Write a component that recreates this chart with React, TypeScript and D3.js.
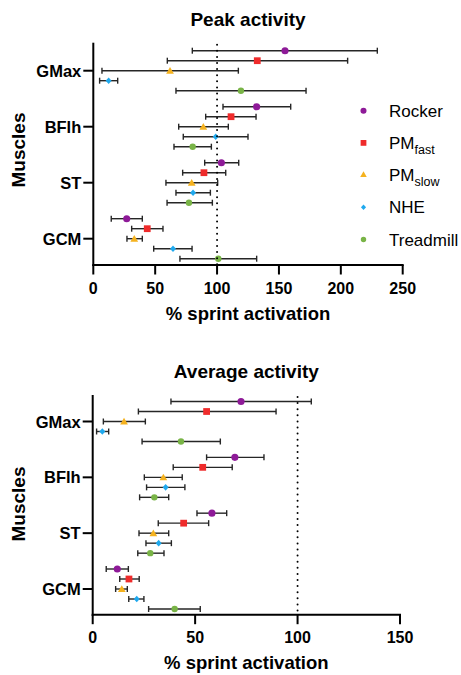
import React from 'react';
import * as d3 from 'd3';

const muscles = ['GMax', 'BFlh', 'ST', 'GCM'];
const seriesNames = ['Rocker', 'PMfast', 'PMslow', 'NHE', 'Treadmill'];
const legendMain = ['Rocker', 'PM', 'PM', 'NHE', 'Treadmill'];
const legendSub = ['', 'fast', 'slow', '', ''];
const peakTicks = [0, 50, 100, 150, 200, 250];
const avgTicks = [0, 50, 100, 150];
const referenceValue = 100;

// [mean, lower, upper] per muscle (GMax, BFlh, ST, GCM)
const peakRocker = [[154.9, 80, 229.5], [132, 104.8, 159.5], [103.5, 90, 117.5], [27, 14.5, 39.6]];
const peakPMfast = [[132.5, 59.8, 205.5], [111.3, 90.8, 131.5], [89.4, 72.2, 107], [43.6, 31, 56.3]];
const peakPMslow = [[62, 7, 117.2], [88.9, 69, 109.1], [79.5, 58.7, 100.5], [33.1, 27.2, 39.6]];
const peakNHE = [[12.4, 5.1, 19.7], [98.9, 72.7, 125], [80.6, 66.8, 94.6], [64.4, 48.8, 79.8]];
const peakTreadmill = [[119.3, 66.8, 171.9], [80.3, 65.2, 95.4], [77.3, 59.6, 96.2], [101, 70, 132]];

const avgRocker = [[72.4, 38.2, 106.7], [69.4, 55.6, 83.6], [58.2, 50.9, 65.4], [12, 6.6, 17.4]];
const avgPMfast = [[55.6, 22.3, 89.5], [53.7, 39.3, 68.1], [44.4, 32, 56.6], [17.7, 13.2, 22.7]];
const avgPMslow = [[15.3, 5.2, 25.7], [34.5, 25.2, 43.7], [29.6, 22.6, 37.1], [14.2, 11.2, 16.9]];
const avgNHE = [[4.7, 1.9, 7.8], [35.6, 26.3, 45], [32.2, 26, 38.4], [21.5, 17.6, 25]];
const avgTreadmill = [[43.1, 24.1, 62.3], [30.1, 22.9, 37.1], [28.1, 22, 34.8], [40, 27.3, 52.5]];

const colors = ['#8E1A98', '#EF2B2B', '#F5B21E', '#1FA9EE', '#79B447'];
const FONT = "'Liberation Sans', Arial, Helvetica, sans-serif";

function markerPath(i: number, k = 1): string {
  if (i === 0) return d3.symbol(d3.symbolCircle, 40 * k * k)() as string;
  if (i === 1) return d3.symbol(d3.symbolSquare, 46 * k * k)() as string;
  if (i === 2) return d3.symbol(d3.symbolTriangle, 26 * k * k)() as string;
  if (i === 3) {
    const w = 3 * k, h = 3.3 * k;
    return `M0,${-h}L${w},0L0,${h}L${-w},0Z`;
  }
  return d3.symbol(d3.symbolCircle, 32 * k * k)() as string;
}

type ChartCfg = {
  title: string;
  data: number[][][];
  ticks: number[];
  xMax: number;
  x0: number;
  x1: number;
  yTop: number;
  yBottom: number;
  c0: number;
  c1: number;
  titleY: number;
  yLabelY: number;
};

function Chart({ cfg }: { cfg: ChartCfg }) {
  const x = d3.scaleLinear().domain([0, cfg.xMax]).range([cfg.x0, cfg.x1]);
  const y = d3.scalePoint<string>().domain(muscles).range([cfg.c0, cfg.c1]);
  const row = d3.scalePoint<string>().domain(seriesNames).range([-20, 20]);
  const cx = (cfg.x0 + cfg.x1) / 2;
  const cap = 3;
  return (
    <g>
      <text x={cx} y={cfg.titleY} textAnchor="middle" fontFamily={FONT} fontWeight="bold" fontSize={19}>
        {cfg.title}
      </text>
      {cfg.data.map((s, si) =>
        s.map((d, mi) => {
          const yy = (y(muscles[mi]) as number) + (row(seriesNames[si]) as number);
          return (
            <g key={`e${si}-${mi}`} stroke="#262626" strokeWidth={1.4} fill="none">
              <line x1={x(d[1])} x2={x(d[2])} y1={yy} y2={yy} />
              <line x1={x(d[1])} x2={x(d[1])} y1={yy - cap} y2={yy + cap} />
              <line x1={x(d[2])} x2={x(d[2])} y1={yy - cap} y2={yy + cap} />
            </g>
          );
        })
      )}
      {cfg.data.map((s, si) =>
        s.map((d, mi) => {
          const yy = (y(muscles[mi]) as number) + (row(seriesNames[si]) as number);
          return (
            <path
              key={`m${si}-${mi}`}
              d={markerPath(si)}
              transform={`translate(${x(d[0])},${yy + (si === 2 ? 0.8 : 0)})`}
              fill={colors[si]}
            />
          );
        })
      )}
      <line
        x1={x(referenceValue)}
        x2={x(referenceValue)}
        y1={cfg.yTop + 2}
        y2={cfg.yBottom}
        stroke="#000"
        strokeWidth={2}
        strokeDasharray="0,6.1"
        strokeLinecap="round"
      />
      <line x1={cfg.x0} x2={cfg.x0} y1={cfg.yTop} y2={cfg.yBottom + 1} stroke="#000" strokeWidth={2} />
      <line x1={cfg.x0 - 1} x2={cfg.x1 + 1} y1={cfg.yBottom} y2={cfg.yBottom} stroke="#000" strokeWidth={2} />
      {muscles.map((m) => (
        <g key={m}>
          <line x1={cfg.x0 - 10} x2={cfg.x0} y1={y(m)} y2={y(m)} stroke="#000" strokeWidth={2} />
          <text
            x={cfg.x0 - 12}
            y={(y(m) as number) + 6}
            textAnchor="end"
            fontFamily={FONT}
            fontWeight="bold"
            fontSize={16.5}
          >
            {m}
          </text>
        </g>
      ))}
      {cfg.ticks.map((t) => (
        <g key={t}>
          <line x1={x(t)} x2={x(t)} y1={cfg.yBottom} y2={cfg.yBottom + 9.5} stroke="#000" strokeWidth={2} />
          <text x={x(t)} y={cfg.yBottom + 28.5} textAnchor="middle" fontFamily={FONT} fontWeight="bold" fontSize={16}>
            {t}
          </text>
        </g>
      ))}
      <text x={cx} y={cfg.yBottom + 54.5} textAnchor="middle" fontFamily={FONT} fontWeight="bold" fontSize={18.5}>
        % sprint activation
      </text>
      <text
        transform={`translate(25,${cfg.yLabelY}) rotate(-90)`}
        textAnchor="middle"
        fontFamily={FONT}
        fontWeight="bold"
        fontSize={19}
      >
        Muscles
      </text>
    </g>
  );
}

export default function App() {
  const peak: ChartCfg = {
    title: 'Peak activity',
    data: [peakRocker, peakPMfast, peakPMslow, peakNHE, peakTreadmill],
    ticks: peakTicks,
    xMax: 250,
    x0: 93.3,
    x1: 402.7,
    yTop: 42.7,
    yBottom: 265,
    c0: 70.7,
    c1: 238.7,
    titleY: 26,
    yLabelY: 150,
  };
  const avg: ChartCfg = {
    title: 'Average activity',
    data: [avgRocker, avgPMfast, avgPMslow, avgNHE, avgTreadmill],
    ticks: avgTicks,
    xMax: 150,
    x0: 92.7,
    x1: 400,
    yTop: 395,
    yBottom: 614.7,
    c0: 421.5,
    c1: 589,
    titleY: 377.5,
    yLabelY: 504,
  };
  const legendX = 363.5;
  const legendY0 = 110.7;
  const legendStep = 32.2;
  return (
    <svg
      width={461}
      height={675}
      style={{ position: 'absolute', left: 0, top: 0, background: '#fff' }}
    >
      <rect width={461} height={675} fill="#fff" />
      <Chart cfg={peak} />
      <Chart cfg={avg} />
      <g>
        {seriesNames.map((s, i) => {
          const yy = legendY0 + i * legendStep;
          return (
            <g key={s}>
              <path d={markerPath(i, 0.85)} transform={`translate(${legendX},${yy})`} fill={colors[i]} />
              <text x={legendX + 25.5} y={yy + 6} fontFamily={FONT} fontSize={17}>
                {legendMain[i]}
                {legendSub[i] && (
                  <tspan fontSize={12.5} dy={5}>
                    {legendSub[i]}
                  </tspan>
                )}
              </text>
            </g>
          );
        })}
      </g>
    </svg>
  );
}
